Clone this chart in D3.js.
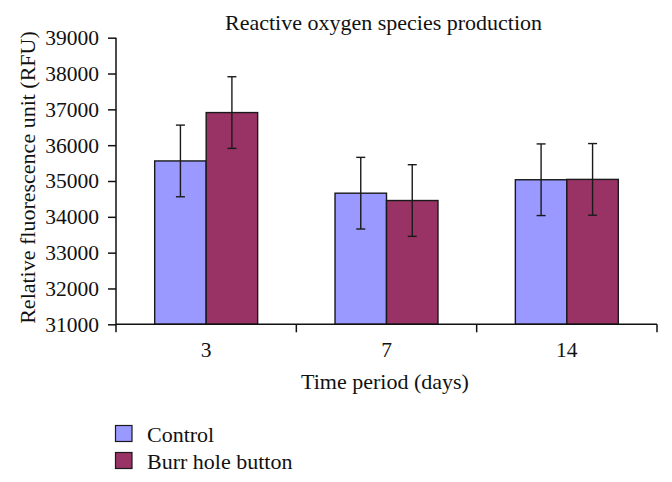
<!DOCTYPE html>
<html>
<head>
<meta charset="utf-8">
<script src="https://cdn.jsdelivr.net/npm/d3@7"></script>
<style>
  svg text { font-family: "Liberation Serif"; }
</style>
</head>
<body style="margin:0">
<svg id="chart" width="672" height="482" font-family="Liberation Serif"></svg>
<script>
const categories = ["3", "7", "14"];
const seriesNames = ["Control", "Burr hole button"];
const controlValues = [35560, 34660, 35035];
const burrValues = [36910, 34455, 35045];
const controlErrors = [1000, 1000, 1000];
const burrErrors = [1000, 1000, 1000];
const yTicks = [31000, 32000, 33000, 34000, 35000, 36000, 37000, 38000, 39000];
const colors = ["#9999FF", "#993366"];

const FONT = "Liberation Serif";
const svg = d3.select("#chart");
const pLeft = 116, pRight = 657, pTop = 37.7, pBottom = 324.3;

const x = d3.scaleBand().domain(categories).range([pLeft, pRight]).padding(0);
const bw = x.bandwidth();
const x1 = d3.scaleBand().domain(seriesNames).range([bw * 0.2145, bw * 0.7855]).padding(0);
const y = d3.scaleLinear().domain([31000, 39000]).range([pBottom, pTop]);

const data = categories.map((c, i) => ({
  cat: c,
  vals: [
    { s: seriesNames[0], v: controlValues[i], e: controlErrors[i], col: colors[0] },
    { s: seriesNames[1], v: burrValues[i], e: burrErrors[i], col: colors[1] }
  ]
}));

// Titles first
svg.append("text").attr("x", 383.5).attr("y", 30).attr("text-anchor", "middle")
  .attr("font-family", FONT).attr("font-size", 22).attr("fill", "#111")
  .text("Reactive oxygen species production");
svg.append("text").attr("x", 385).attr("y", 389).attr("text-anchor", "middle")
  .attr("font-family", FONT).attr("font-size", 22).attr("fill", "#111")
  .text("Time period (days)");
svg.append("text").attr("transform", "translate(35,177.5) rotate(-90)").attr("text-anchor", "middle")
  .attr("font-family", FONT).attr("font-size", 22).attr("fill", "#111")
  .text("Relative fluorescence unit (RFU)");

// Bars
const g = svg.append("g");
const groups = g.selectAll("g.grp").data(data).join("g")
  .attr("transform", d => `translate(${x(d.cat)},0)`);
groups.selectAll("rect").data(d => d.vals).join("rect")
  .attr("x", d => x1(d.s))
  .attr("y", d => y(d.v))
  .attr("width", x1.bandwidth())
  .attr("height", d => y(31000) - y(d.v))
  .attr("fill", d => d.col)
  .attr("stroke", "#1a1a1a")
  .attr("stroke-width", 1.4);

// Error bars
const eb = groups.selectAll("g.eb").data(d => d.vals).join("g")
  .attr("stroke", "#1a1a1a").attr("stroke-width", 1.4);
eb.append("line")
  .attr("x1", d => x1(d.s) + x1.bandwidth() / 2)
  .attr("x2", d => x1(d.s) + x1.bandwidth() / 2)
  .attr("y1", d => y(d.v + d.e))
  .attr("y2", d => y(d.v - d.e));
[1, -1].forEach(sgn => {
  eb.append("line")
    .attr("x1", d => x1(d.s) + x1.bandwidth() / 2 - 4.5)
    .attr("x2", d => x1(d.s) + x1.bandwidth() / 2 + 4.5)
    .attr("y1", d => y(d.v + sgn * d.e))
    .attr("y2", d => y(d.v + sgn * d.e));
});

// Y axis
const yAxis = d3.axisLeft(y).tickValues(yTicks).tickSize(8).tickSizeOuter(0).tickPadding(9)
  .tickFormat(d3.format("d"));
const ya = svg.append("g").attr("transform", `translate(${pLeft},0)`).call(yAxis);
ya.attr("font-family", FONT).attr("font-size", 21.5);
ya.select(".domain").attr("stroke", "#111").attr("stroke-width", 1.5)
  .attr("d", `M0,${pTop}V${pBottom + 8}`);
ya.selectAll(".tick line").attr("stroke", "#111").attr("stroke-width", 1.5);
ya.selectAll(".tick text").attr("font-family", FONT).attr("font-size", 21.5).attr("fill", "#111");

// X axis
const xa = svg.append("g");
xa.append("line").attr("x1", pLeft).attr("x2", pRight).attr("y1", pBottom).attr("y2", pBottom)
  .attr("stroke", "#111").attr("stroke-width", 1.5);
const bounds = categories.map(c => x(c) + bw);
xa.selectAll("line.bt").data(bounds).join("line")
  .attr("x1", d => d).attr("x2", d => d).attr("y1", pBottom).attr("y2", pBottom + 8)
  .attr("stroke", "#111").attr("stroke-width", 1.5);
xa.selectAll("text").data(categories).join("text")
  .attr("x", d => x(d) + bw / 2).attr("y", 357)
  .attr("text-anchor", "middle").attr("font-family", FONT).attr("font-size", 21.5)
  .attr("fill", "#111").text(d => d);

// Legend
const leg = svg.append("g").selectAll("g").data(seriesNames).join("g")
  .attr("transform", (d, i) => `translate(115.5,${425.5 + i * 27})`);
leg.append("rect").attr("width", 16.5).attr("height", 16).attr("fill", (d, i) => colors[i])
  .attr("stroke", "#1a1a1a").attr("stroke-width", 1.2);
leg.append("text").attr("x", 31.5).attr("y", 16.2)
  .attr("font-family", FONT).attr("font-size", 22).attr("fill", "#111").text(d => d);
</script>
</body>
</html>
